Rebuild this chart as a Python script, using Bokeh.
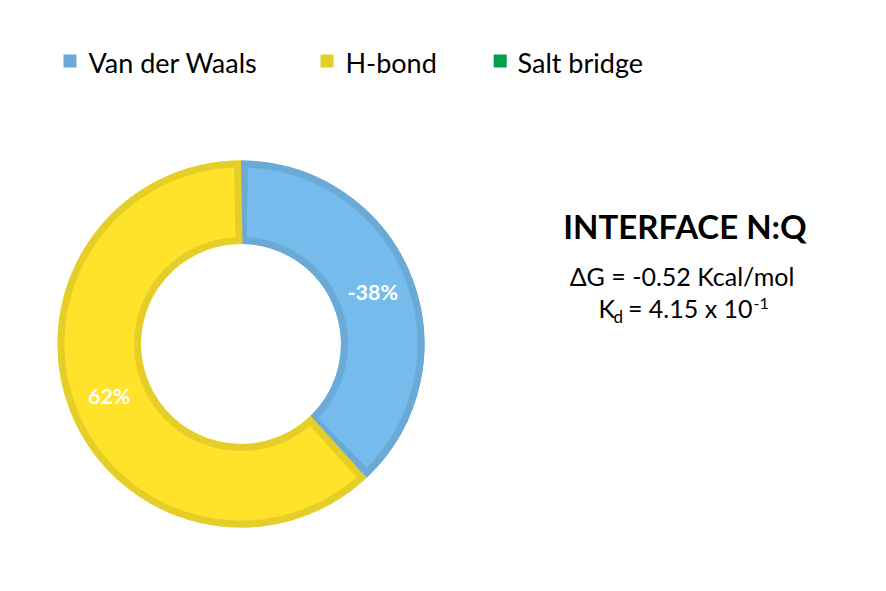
import numpy as np
from bokeh.plotting import figure
from bokeh.models import Range1d
from bokeh.core.properties import value
from bokeh.embed import file_html
from bokeh.resources import INLINE

# ---------------- data ----------------
categories = ["Van der Waals", "H-bond", "Salt bridge"]
values = [-38, 62, 0]
fill_colors = ["#75BBEB", "#FFE32A", "#00A651"]
border_colors = ["#6BAAD6", "#E6CE28", "#00A04A"]
legend_colors = ["#6BAAD8", "#E6CE28", "#00A04A"]

title_text = "INTERFACE N:Q"
dg_text = "ΔG = -0.52 Kcal/mol"
kd_main = "K"
kd_sub = "d"
kd_mid = "= 4.15 x 10"
kd_sup = "-1"

# ---------------- layout / style ----------------
W, H = 870, 575
FONT = "Lato"


def sx(px):
    return px


def sy(py):
    return H - py


p = figure(width=W, height=H, output_backend="svg", toolbar_location=None,
           x_range=Range1d(0, W), y_range=Range1d(0, H),
           x_axis_type=None, y_axis_type=None, min_border=0)
p.outline_line_color = None
p.background_fill_color = "white"
p.border_fill_color = "white"

# donut
cx, cy = sx(240.5), sy(343.5)
r_in, r_out, bw = 100.0, 183.5, 7.0
mag = np.abs(np.array(values, dtype=float))
frac = mag / mag.sum()
cum = np.cumsum(frac)
start = np.pi / 2 - (cum - frac) * 2 * np.pi
end = np.pi / 2 - cum * 2 * np.pi
keep = mag > 0
delta = (bw / 2) / (r_out - bw / 2)

p.annular_wedge(x=cx, y=cy, inner_radius=r_in, outer_radius=r_out,
                start_angle=start[keep], end_angle=end[keep], direction="clock",
                fill_color=[c for c, k in zip(fill_colors, keep) if k], line_color=None)
p.annular_wedge(x=cx, y=cy, inner_radius=r_in + bw / 2, outer_radius=r_out - bw / 2,
                start_angle=start[keep] - delta, end_angle=end[keep] + delta, direction="clock",
                fill_color=None, line_width=bw, line_join="miter",
                line_color=[c for c, k in zip(border_colors, keep) if k])

# slice labels
mid = (start + end) / 2
r_mid = (r_in + r_out) / 2
lab_x = cx + r_mid * np.cos(mid[keep])
lab_y = cy + r_mid * np.sin(mid[keep])
labels = [f"{v}%" for v, k in zip(values, keep) if k]
p.text(x=lab_x, y=lab_y, text=labels, text_color="white", text_font=value(FONT),
       text_font_style="bold", text_font_size="21.5px", text_align="center",
       text_baseline="middle")

# legend (manual, horizontal)
leg_sq_x = [69.5, 326.5, 499.7]
leg_txt_x = [88, 345, 517]
p.rect(x=[sx(v) for v in leg_sq_x], y=sy(60.5), width=13, height=13,
       fill_color=legend_colors, line_color=None)
p.text(x=[sx(v) for v in leg_txt_x], y=sy(62), text=categories, text_color="black",
       text_font=value(FONT), text_font_size="27px", text_align="left",
       text_baseline="middle")

# right-hand annotation
p.text(x=[sx(684.5)], y=[sy(225)], text=[title_text], text_color="black",
       text_font=value(FONT), text_font_style="bold", text_font_size="33px",
       text_align="center", text_baseline="middle")
p.text(x=[sx(681.5)], y=[sy(275.5)], text=[dg_text], text_color="black",
       text_font=value(FONT), text_font_size="25px", text_align="center",
       text_baseline="middle")
p.text(x=[sx(598)], y=[sy(307.5)], text=[kd_main], text_color="black",
       text_font=value(FONT), text_font_size="25px", text_align="left",
       text_baseline="middle")
p.text(x=[sx(613)], y=[sy(316)], text=[kd_sub], text_color="black",
       text_font=value(FONT), text_font_size="17px", text_align="left",
       text_baseline="middle")
p.text(x=[sx(752)], y=[sy(307.5)], text=[kd_mid], text_color="black",
       text_font=value(FONT), text_font_size="25px", text_align="right",
       text_baseline="middle")
p.text(x=[sx(753)], y=[sy(302.5)], text=[kd_sup], text_color="black",
       text_font=value(FONT), text_font_size="16px", text_align="left",
       text_baseline="middle")

open("out.html", "w").write(file_html(p, INLINE))
